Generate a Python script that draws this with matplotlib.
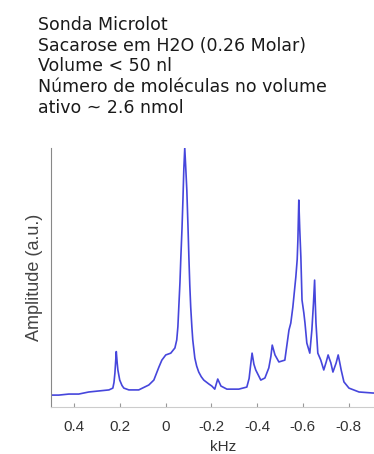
import matplotlib
matplotlib.use("Agg")
import matplotlib.pyplot as plt

# spectrum points (kHz, amplitude in a.u.)
freq = [0.505, 0.466, 0.422, 0.379, 0.335, 0.291, 0.247, 0.230, 0.225, 0.221,
        0.215, 0.211, 0.208, 0.200, 0.190, 0.182, 0.160, 0.117, 0.073, 0.051,
        0.029, 0.016, -0.001, -0.023, -0.041, -0.049, -0.054, -0.058, -0.063,
        -0.067, -0.072, -0.076, -0.080, -0.084, -0.088, -0.093, -0.098, -0.102,
        -0.106, -0.110, -0.115, -0.119, -0.128, -0.136, -0.145, -0.156, -0.167,
        -0.189, -0.202, -0.215, -0.228, -0.242, -0.268, -0.320, -0.355, -0.365,
        -0.372, -0.378, -0.386, -0.394, -0.416, -0.434, -0.451, -0.460, -0.466,
        -0.472, -0.478, -0.495, -0.521, -0.539, -0.547, -0.556, -0.569, -0.575,
        -0.578, -0.582, -0.586, -0.591, -0.596, -0.604, -0.609, -0.617, -0.630,
        -0.639, -0.646, -0.651, -0.654, -0.657, -0.665, -0.678, -0.691, -0.702,
        -0.710, -0.716, -0.722, -0.731, -0.745, -0.754, -0.760, -0.767, -0.779,
        -0.801, -0.845, -0.906, -1.0]
amp = [0.046, 0.046, 0.050, 0.050, 0.058, 0.062, 0.066, 0.073, 0.095, 0.131,
       0.214, 0.170, 0.143, 0.104, 0.083, 0.073, 0.066, 0.066, 0.085, 0.104,
       0.154, 0.181, 0.201, 0.208, 0.228, 0.259, 0.310, 0.386, 0.480,
       0.579, 0.690, 0.799, 0.920, 1.000, 0.930, 0.838, 0.700, 0.579,
       0.470, 0.386, 0.310, 0.259, 0.189, 0.158, 0.135, 0.117, 0.104,
       0.089, 0.081, 0.069, 0.108, 0.081, 0.069, 0.069, 0.077, 0.110,
       0.165, 0.208, 0.165, 0.143, 0.104, 0.112, 0.151, 0.195, 0.239,
       0.220, 0.201, 0.174, 0.181, 0.297, 0.324, 0.386, 0.502, 0.570,
       0.645, 0.799, 0.690, 0.579, 0.413, 0.363, 0.324, 0.247, 0.208,
       0.297, 0.400, 0.490, 0.400, 0.324, 0.208, 0.181, 0.143, 0.175,
       0.201, 0.185, 0.170, 0.135, 0.170, 0.201, 0.175, 0.143, 0.097,
       0.073, 0.058, 0.054, 0.052]

xticks = [0.4, 0.2, 0, -0.2, -0.4, -0.6, -0.8]
xtick_labels = ["0.4", "0.2", "0", "-0.2", "-0.4", "-0.6", "-0.8"]

title_lines = ["Sonda Microlot",
               "Sacarose em H2O (0.26 Molar)",
               "Volume < 50 nl",
               "Número de moléculas no volume",
               "ativo ~ 2.6 nmol"]

fig = plt.figure(figsize=(3.74, 4.54), dpi=100)
ax = fig.add_axes([0.1364, 0.1035, 0.9185, 0.5705])

ax.plot(freq, amp, color="#4646dc", lw=1.2)
ax.set_xlim(0.5, -1.0)
ax.set_ylim(0, 1.0)

ax.set_xticks(xticks)
ax.set_xticklabels(xtick_labels, fontsize=11, color="#333333", family="Liberation Sans")
ax.set_yticks([])
ax.tick_params(axis="x", direction="in", length=3, color="#999999", pad=9)
ax.set_xlabel("kHz", fontsize=11, color="#333333", family="Liberation Sans", labelpad=5)
ax.set_ylabel("Amplitude (a.u.)", fontsize=13, color="#444444", family="Liberation Sans", labelpad=6)

ax.spines["top"].set_visible(False)
ax.spines["right"].set_visible(False)
ax.spines["left"].set_color("#888888")
ax.spines["bottom"].set_color("#cccccc")

fig.text(0.102, 0.965, "\n".join(title_lines), ha="left", va="top",
         fontsize=12.5, color="#1a1a1a", linespacing=1.2, family="DejaVu Sans")

fig.savefig("out.png", dpi=100)
